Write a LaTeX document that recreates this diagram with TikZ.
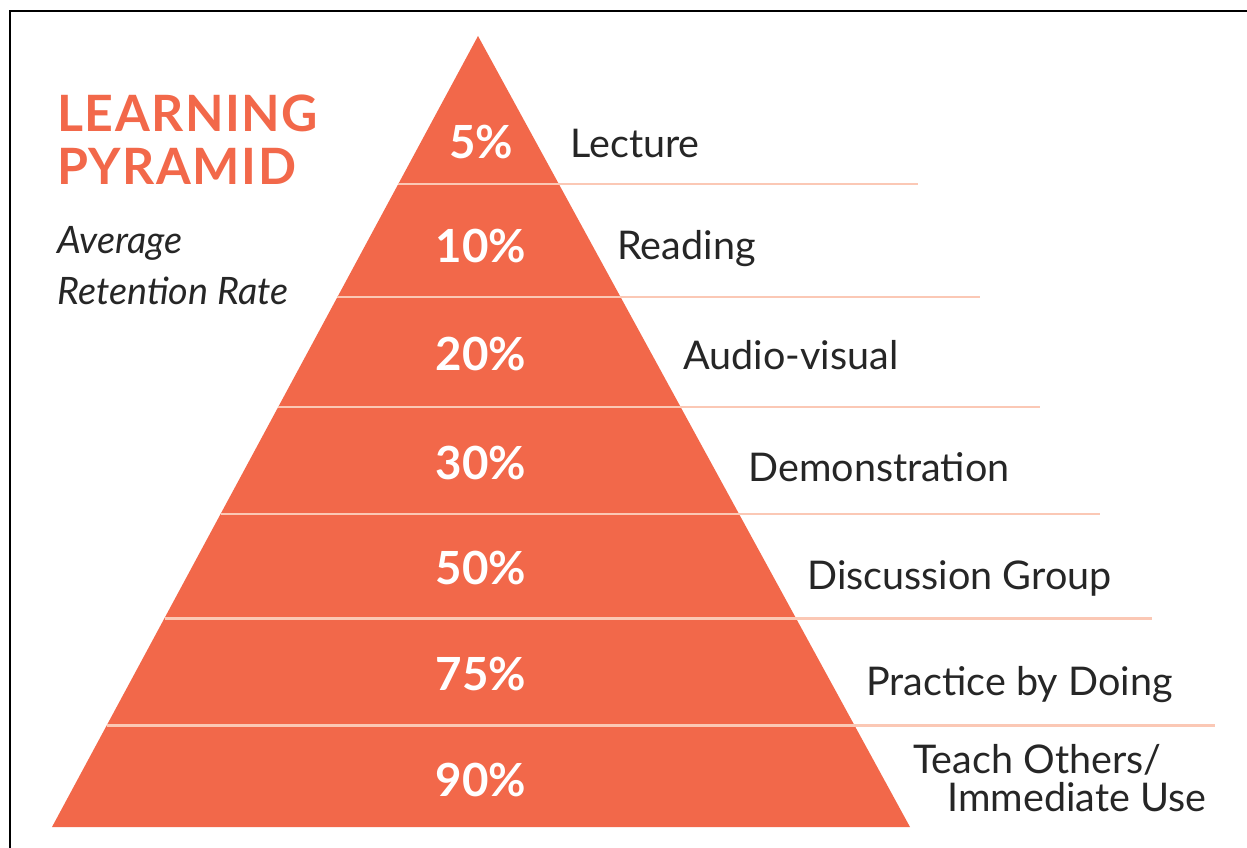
\documentclass[tikz,border=0pt]{standalone}
\usepackage{fontspec}
\setmainfont{Lato}
\newfontfamily\titrefont[LetterSpace=3]{Lato}
\usepackage{xcolor}
\usetikzlibrary{positioning}
\definecolor{pyrorange}{HTML}{F2684A}
\definecolor{pyrline}{HTML}{FBC8B5}
\definecolor{pyrtext}{HTML}{262626}

\begin{document}
\begin{tikzpicture}[x=0.02cm, y=-0.02cm,
  pct/.style={inner sep=0, anchor=base, text=white, font=\bfseries\fontsize{26}{30}\selectfont},
  lbl/.style={inner sep=0, anchor=base west, text=pyrtext, font=\fontsize{22.5}{26}\selectfont}]
  \useasboundingbox (0,0) rectangle (1247,848);
  % Cadre
  \draw[line width=1.2pt] (10,848) -- (10,11) -- (1247,11);
  % Titre
  \node[inner sep=0, anchor=base west, text=pyrorange, font=\titrefont\bfseries\fontsize{28.5}{32}\selectfont] (titre1) at (57,132) {LEARNING};
  \node[inner sep=0, anchor=base west, text=pyrorange, font=\titrefont\bfseries\fontsize{28.5}{32}\selectfont] (titre2) at (57,184) {PYRAMID};
  \node[inner sep=0, anchor=base west, text=pyrtext, font=\itshape\fontsize{21.5}{26}\selectfont] (sous1) at (57,253) {Average};
  \node[inner sep=0, anchor=base west, text=pyrtext, font=\itshape\fontsize{21.5}{26}\selectfont] (sous2) at (57,304) {Retention Rate};
  % Pyramide
  \fill[pyrorange] (478,36) -- (910,827) -- (52,827) -- cycle;
  % Separations
  \foreach \y/\xe in {184/918, 297/980, 407/1040, 514/1100, 618/1152, 725/1215}
    \draw[pyrline, line width=1.7pt] ({478-(\y-36)*0.5386},\y) -- (\xe,\y);
  % Pourcentages
  \node[pct] (p5)  at (481,158) {5\%};
  \node[pct] (p10) at (481,262) {10\%};
  \node[pct] (p20) at (481,370) {20\%};
  \node[pct] (p30) at (481,479) {30\%};
  \node[pct] (p50) at (481,584) {50\%};
  \node[pct] (p75) at (481,690) {75\%};
  \node[pct] (p90) at (481,796) {90\%};
  % Methodes
  \node[lbl] (lecture) at (570,157) {Lecture};
  \node[lbl] (reading) at (617,259) {Reading};
  \node[lbl] (audio)   at (683,369) {Audio-visual};
  \node[lbl] (demo)    at (748,481) {Demonstration};
  \node[lbl] (discus)  at (807,589) {Discussion Group};
  \node[lbl] (practice) at (866,695) {Practice by Doing};
  \node[lbl] (teach)   at (913,773) {Teach Others/};
  \node[lbl] (use)     at (947,811) {Immediate Use};
\end{tikzpicture}
\end{document}
